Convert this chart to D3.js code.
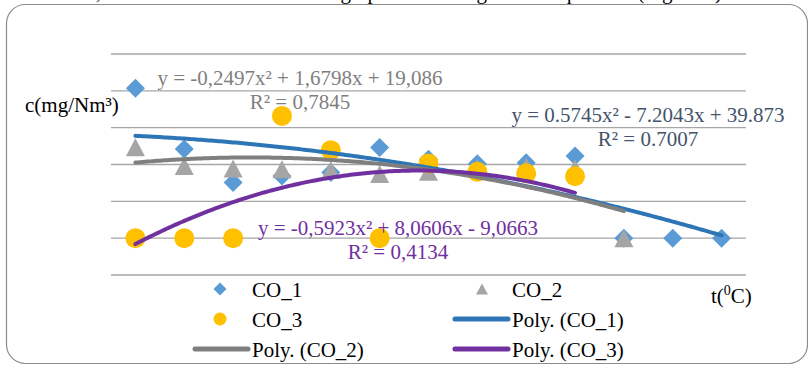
<!DOCTYPE html>
<html>
<head>
<meta charset="utf-8">
<script src="https://cdn.jsdelivr.net/npm/d3@7"></script>
<style>
  body { margin: 0; background: #fff; }
  text { font-family: "Liberation Serif", "Times New Roman", serif; }
</style>
</head>
<body>
<div id="chart"></div>
<script>
// measurement points, x = 1..n
var co1 = [40.7, 24.2, 15.1, 16.9, 17.8, 24.6, 21.4, 20.2, 20.5, 22.3, 0, 0, 0];
var co2 = [24.7, 19.6, 18.9, 18.7, 18.5, 17.4, 18, 19, 19.4, 19, 0];
var co3 = [0, 0, 0, 33.2, 23.9, 0, 20.3, 18.0, 17.6, 16.8];

// trendline coefficients [c0, c1, c2]
var poly1 = [28.26, -0.344, -0.1363];
var poly2 = [19.086, 1.6798, -0.2497];
var poly3 = [-9.0663, 8.0606, -0.5923];

var yTicks = [-10, 0, 10, 20, 30, 40, 50];

var eq1 = ["y = 0.5745x² - 7.2043x + 39.873", "R² = 0.7007"];
var eq2 = ["y = -0,2497x² + 1,6798x + 19,086", "R² = 0,7845"];
var eq3 = ["y = -0,5923x² + 8,0606x - 9,0663", "R² = 0,4134"];

var width = 808,
  height = 365;

var svg = d3
  .select("#chart")
  .append("svg")
  .attr("width", width)
  .attr("height", height);

// bit of the document caption above the chart, cut off by the crop
svg
  .append("text")
  .attr("x", 722)
  .attr("y", -1.5)
  .attr("text-anchor", "end")
  .attr("font-size", 21)
  .text("so, the results are shown in the graph and the regression equations (Figure 3)");

svg
  .append("rect")
  .attr("x", 6.5)
  .attr("y", 4.5)
  .attr("width", 801)
  .attr("height", 359)
  .attr("rx", 19)
  .attr("fill", "#fff")
  .attr("stroke", "#8c8c8c")
  .attr("stroke-width", 1.2);

var x = d3.scaleLinear().domain([0.5, 13.5]).range([111, 746]);
var y = d3.scaleLinear().domain([-10, 50]).range([275, 54]);

svg
  .selectAll(".grid")
  .data(yTicks)
  .enter()
  .append("line")
  .attr("class", "grid")
  .attr("x1", x.range()[0])
  .attr("x2", x.range()[1])
  .attr("y1", function (d) { return y(d); })
  .attr("y2", function (d) { return y(d); })
  .attr("stroke", "#a6a6a6")
  .attr("stroke-width", 1.4);

var diamond = function (s) {
  return "M0," + -s + "L" + s + ",0L0," + s + "L" + -s + ",0Z";
};
var triangle = function (w, h) {
  return "M0," + -h + "L" + w + "," + h + "L" + -w + "," + h + "Z";
};

svg
  .selectAll(".co1")
  .data(co1)
  .enter()
  .append("path")
  .attr("d", diamond(9.5))
  .attr("fill", "#5b9bd5")
  .attr("transform", function (d, i) {
    return "translate(" + x(i + 1) + "," + y(d) + ")";
  });

svg
  .selectAll(".co2")
  .data(co2)
  .enter()
  .append("path")
  .attr("d", triangle(9.5, 9))
  .attr("fill", "#a5a5a5")
  .attr("transform", function (d, i) {
    return "translate(" + x(i + 1) + "," + y(d) + ")";
  });

svg
  .selectAll(".co3")
  .data(co3)
  .enter()
  .append("circle")
  .attr("cx", function (d, i) { return x(i + 1); })
  .attr("cy", function (d) { return y(d); })
  .attr("r", 10)
  .attr("fill", "#ffc000");

var line = d3
  .line()
  .x(function (d) { return x(d[0]); })
  .y(function (d) { return y(d[1]); })
  .curve(d3.curveLinear);

var trend = function (coef, n) {
  return d3.range(1, n + 0.001, 0.05).map(function (t) {
    return [t, coef[0] + coef[1] * t + coef[2] * t * t];
  });
};

var trends = [
  { coef: poly1, n: co1.length, color: "#2e75b6" },
  { coef: poly2, n: co2.length, color: "#7f7f7f" },
  { coef: poly3, n: co3.length, color: "#7030a0" },
];

svg
  .selectAll(".trend")
  .data(trends)
  .enter()
  .append("path")
  .attr("d", function (d) { return line(trend(d.coef, d.n)); })
  .attr("fill", "none")
  .attr("stroke", function (d) { return d.color; })
  .attr("stroke-width", 4)
  .attr("stroke-linecap", "round");

// equation labels
var labels = [
  { lines: eq2, x: 300, y: 85, color: "#7f7f7f" },
  { lines: eq1, x: 648, y: 122, color: "#44546a" },
  { lines: eq3, x: 398, y: 235, color: "#7030a0" },
];

labels.forEach(function (l) {
  svg
    .selectAll(null)
    .data(l.lines)
    .enter()
    .append("text")
    .attr("x", l.x)
    .attr("y", function (d, i) { return l.y + i * 23.5; })
    .attr("text-anchor", "middle")
    .attr("font-size", 21)
    .attr("fill", l.color)
    .text(function (d) { return d; });
});

// axis titles
svg
  .append("text")
  .attr("x", 25)
  .attr("y", 112)
  .attr("font-size", 21)
  .text("c(mg/Nm³)");

var xt = svg
  .append("text")
  .attr("x", 711)
  .attr("y", 303)
  .attr("font-size", 21);
xt.append("tspan").text("t(");
xt.append("tspan").attr("font-size", 14).attr("dy", -8).text("0");
xt.append("tspan").attr("dy", 8).text("C)");

// legend
var legend = [
  { name: "CO_1", type: "diamond", color: "#5b9bd5", col: 0, row: 0 },
  { name: "CO_2", type: "triangle", color: "#a5a5a5", col: 1, row: 0 },
  { name: "CO_3", type: "circle", color: "#ffc000", col: 0, row: 1 },
  { name: "Poly. (CO_1)", type: "line", color: "#2e75b6", col: 1, row: 1 },
  { name: "Poly. (CO_2)", type: "line", color: "#7f7f7f", col: 0, row: 2 },
  { name: "Poly. (CO_3)", type: "line", color: "#7030a0", col: 1, row: 2 },
];

var lg = svg
  .selectAll(".legend")
  .data(legend)
  .enter()
  .append("g")
  .attr("transform", function (d) {
    return "translate(" + (252 + d.col * 260) + "," + (289 + d.row * 30) + ")";
  });

lg.each(function (d) {
  var g = d3.select(this);
  if (d.type === "diamond") {
    g.append("path").attr("d", diamond(6.5)).attr("fill", d.color).attr("transform", "translate(-32,0)");
  } else if (d.type === "triangle") {
    g.append("path").attr("d", triangle(6, 5.5)).attr("fill", d.color).attr("transform", "translate(-30,0)");
  } else if (d.type === "circle") {
    g.append("circle").attr("cx", -32).attr("r", 6.5).attr("fill", d.color);
  } else {
    g.append("line")
      .attr("x1", -57)
      .attr("x2", -4)
      .attr("stroke", d.color)
      .attr("stroke-width", 5)
      .attr("stroke-linecap", "round");
  }
  g.append("text")
    .attr("x", 0)
    .attr("y", 7.5)
    .attr("font-size", 21)
    .text(d.name);
});
</script>
</body>
</html>
